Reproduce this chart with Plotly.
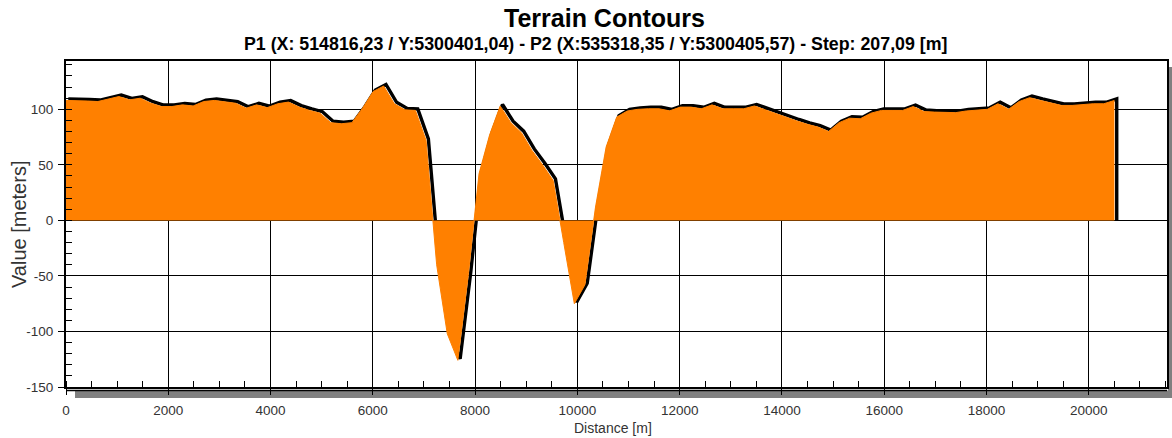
import plotly.graph_objects as go

# ---------------- data ----------------
STEP = 207.09  # metres between samples, as stated in the subtitle
elevation = [
    108, 108, 107.5, 107, 109, 111.5, 108.5, 110, 105.5, 102.5,
    102.5, 104, 103, 107, 108, 107, 105.5, 101, 104, 101.5,
    105, 106.5, 102, 99, 96.5, 88, 87, 88, 101, 116,
    121, 105, 99.5, 99, 72, -40, -102, -126, -48, 42,
    77, 103, 88, 79, 63, 50, 36, -20, -75, -58,
    12, 66, 93, 98.5, 100, 100.5, 100.5, 98.6, 102, 102,
    100.5, 104, 100.5, 100.5, 100.5, 103, 99.5, 96, 93, 89.5,
    86.5, 84, 80, 88, 92, 91.5, 96.5, 99, 99, 99,
    102.5, 98, 97.5, 97, 97, 98.5, 99.5, 100, 105, 100,
    107, 110.5, 108, 106, 103.5, 103.5, 104.5, 105, 105, 108,
]
distance = [i * STEP for i in range(len(elevation))]

x_ticks = [0, 2000, 4000, 6000, 8000, 10000, 12000, 14000, 16000, 18000, 20000]
y_ticks = [-150, -100, -50, 0, 50, 100]

title_text = "Terrain Contours"
subtitle_text = ("P1 (X: 514816,23 / Y:5300401,04) - P2 (X:535318,35 / Y:5300405,57)"
                 " - Step: 207,09 [m]")
x_title = "Distance [m]"
y_title = "Value [meters]"

# ---------------- geometry / style ----------------
W, H = 1172, 438
ML, MR, MT, MB = 66, 5, 61, 51
PW, PH = W - ML - MR, H - MT - MB
X_RANGE = [0, 21530]
Y_RANGE = [-150, 143.5]
px_x = PW / (X_RANGE[1] - X_RANGE[0])
px_y = PH / (Y_RANGE[1] - Y_RANGE[0])

# drop-shadow line offset (pixels -> data units)
SH_DX = 2.3 / px_x
SH_DY = 1.5 / px_y

ORANGE = "#FF8000"
FONT = "Liberation Sans, Arial, sans-serif"

shadow_x = [d + SH_DX for d in distance] + [distance[-1] + SH_DX]
shadow_y = [v + SH_DY for v in elevation] + [0]

fig = go.Figure()
fig.add_trace(go.Scatter(
    x=shadow_x, y=shadow_y, mode="lines",
    line=dict(color="black", width=3.4), hoverinfo="skip", showlegend=False,
))
fig.add_trace(go.Scatter(
    x=distance, y=elevation, mode="lines", fill="tozeroy",
    fillcolor=ORANGE, line=dict(color=ORANGE, width=1), showlegend=False,
))

axis_common = dict(
    showline=True, linecolor="black", linewidth=2, mirror=True,
    showgrid=True, gridcolor="black", gridwidth=1.4, automargin=False,
    zeroline=False, ticks="outside", ticklen=6, tickwidth=1.4, tickcolor="black",
    tickfont=dict(family=FONT, size=13.5, color="#333333"),
)
fig.update_xaxes(
    range=X_RANGE, tickvals=x_ticks, ticktext=[str(v) for v in x_ticks],
    minor=dict(dtick=500, tick0=0, ticks="inside", ticklen=6, tickwidth=1.4,
               tickcolor="black", showgrid=False),
    ticklabelstandoff=4,
    **axis_common,
)
fig.update_yaxes(
    range=Y_RANGE, tickvals=y_ticks, ticktext=[str(v) for v in y_ticks],
    minor=dict(dtick=10, tick0=0, ticks="inside", ticklen=6, tickwidth=1.4,
               tickcolor="black", showgrid=False),
    ticklabelstandoff=2,
    **axis_common,
)

# frame shadow (bottom and right) and double bottom line
fig.add_shape(type="rect", xref="paper", yref="paper",
              x0=9 / PW, x1=(W - ML) / PW, y0=-11 / PH, y1=-3.5 / PH,
              fillcolor="#808080", line_width=0, layer="below")
fig.add_shape(type="rect", xref="paper", yref="paper",
              x0=1 + 1 / PW, x1=(W - ML) / PW, y0=-11 / PH, y1=1 - 6 / PH,
              fillcolor="#808080", line_width=0, layer="below")
fig.add_shape(type="line", xref="paper", yref="paper",
              x0=0, x1=1, y0=-3.5 / PH, y1=-3.5 / PH,
              line=dict(color="black", width=1.4))

fig.add_annotation(text=f"<b>{title_text}</b>", xref="paper", yref="paper",
                   x=(604 - ML) / PW, y=1 + (MT - 18) / PH, xanchor="center",
                   yanchor="middle", showarrow=False,
                   font=dict(family=FONT, size=25, color="black"))
fig.add_annotation(text=f"<b>{subtitle_text}</b>", xref="paper", yref="paper",
                   x=(595 - ML) / PW, y=1 + (MT - 44) / PH, xanchor="center",
                   yanchor="middle", showarrow=False,
                   font=dict(family=FONT, size=17.8, color="black"))
fig.add_annotation(text=y_title, xref="paper", yref="paper",
                   x=(19 - ML) / PW, y=(H - MB - 225) / PH, xanchor="center",
                   yanchor="middle", textangle=-90, showarrow=False,
                   font=dict(family=FONT, size=20, color="#333333"))
fig.add_annotation(text=x_title, xref="paper", yref="paper",
                   x=(613 - ML) / PW, y=-(428 - (H - MB)) / PH, xanchor="center",
                   yanchor="middle", showarrow=False,
                   font=dict(family=FONT, size=14, color="#333333"))

fig.update_layout(
    width=W, height=H, margin=dict(l=ML, r=MR, t=MT, b=MB, pad=0),
    paper_bgcolor="white", plot_bgcolor="white", showlegend=False,
)

# remove the browser's default 8px body margin so the figure fills the window
fig.write_html("out.html",
               config={"displayModeBar": False},
               post_script="document.body.style.margin='0';"
                           "document.body.style.overflow='hidden';")
